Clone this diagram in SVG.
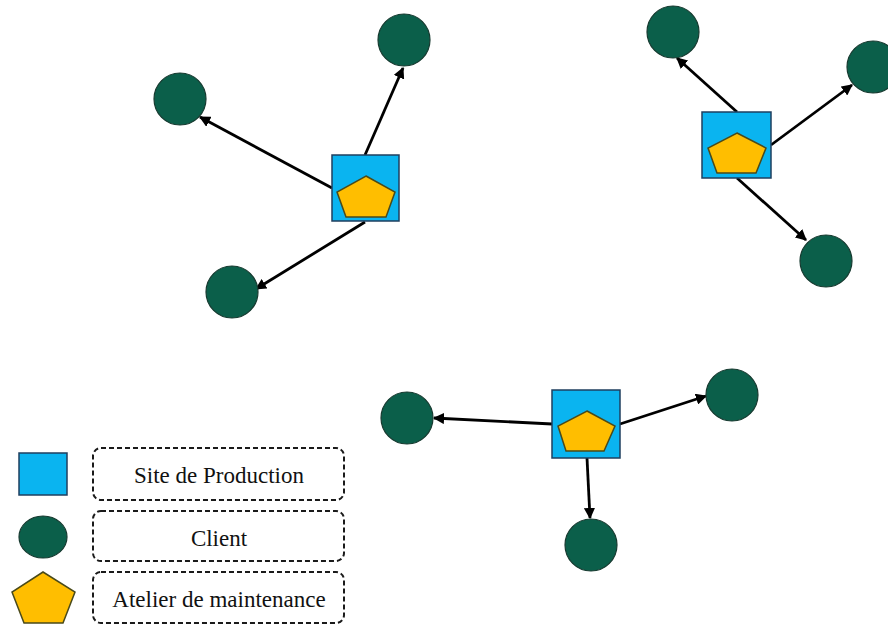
<svg xmlns="http://www.w3.org/2000/svg" width="888" height="625" viewBox="0 0 888 625">
<defs>
<style>
.site{fill:#0AB4F0;stroke:#1F3F5F;stroke-width:1.5}
.client{fill:#0B5F4A;stroke:#173A30;stroke-width:1.2}
.atelier{fill:#FFBE00;stroke:#4A4A1A;stroke-width:1.5}
.conn{stroke:#000;stroke-width:2.8;fill:none;marker-end:url(#arr)}
.leg{fill:none;stroke:#1a1a1a;stroke-width:2;stroke-dasharray:5,3}
.lbl{font-family:"Liberation Serif","Times New Roman",serif;font-size:23px;fill:#111;text-anchor:middle}
</style>
<marker id="arr" viewBox="0 0 10 10" refX="9" refY="5" markerWidth="4" markerHeight="4" orient="auto" markerUnits="strokeWidth">
<path d="M0,0 L10,5 L0,10 z" fill="#000"/>
</marker>
</defs>
<rect width="888" height="625" fill="#fff"/>
<g id="connectors">
<line class="conn" x1="365" y1="155" x2="403" y2="68"/>
<line class="conn" x1="332" y1="188" x2="200" y2="117"/>
<line class="conn" x1="365" y1="222" x2="256" y2="289"/>
<line class="conn" x1="737" y1="112" x2="677" y2="58"/>
<line class="conn" x1="771" y1="145" x2="852" y2="85"/>
<line class="conn" x1="737" y1="178" x2="806" y2="240"/>
<line class="conn" x1="552" y1="424" x2="434" y2="418"/>
<line class="conn" x1="620" y1="424" x2="706" y2="396"/>
<line class="conn" x1="587" y1="458" x2="590" y2="518"/>
</g>
<g id="site1">
<rect class="site" x="332" y="155" width="67" height="66"/>
<polygon class="atelier" points="366,176 395,192 386,217 346,217 337,192"/>
</g>
<g id="client1a"><circle class="client" cx="404" cy="40" r="26"/></g>
<g id="client1b"><circle class="client" cx="180" cy="99" r="26"/></g>
<g id="client1c"><circle class="client" cx="232" cy="292" r="26"/></g>
<g id="site2">
<rect class="site" x="702" y="112" width="69" height="66"/>
<polygon class="atelier" points="737,133 766,148 756,173 717,173 708,148"/>
</g>
<g id="client2a"><circle class="client" cx="673" cy="32" r="26"/></g>
<g id="client2b"><circle class="client" cx="873" cy="67" r="26"/></g>
<g id="client2c"><circle class="client" cx="826" cy="261" r="26"/></g>
<g id="site3">
<rect class="site" x="552" y="390" width="68" height="68"/>
<polygon class="atelier" points="587,411 615,426 604,451 566,451 558,426"/>
</g>
<g id="client3a"><circle class="client" cx="407" cy="418" r="26"/></g>
<g id="client3b"><circle class="client" cx="732" cy="395" r="26"/></g>
<g id="client3c"><circle class="client" cx="591" cy="545" r="26"/></g>
<g id="legend">
<rect class="site" x="19" y="453" width="48" height="42"/>
<ellipse class="client" cx="43" cy="537" rx="24" ry="21"/>
<polygon class="atelier" points="43,572 75,592 63,623 24,623 12,592"/>
<rect class="leg" x="93" y="448" width="251" height="52" rx="8"/>
<rect class="leg" x="93" y="511" width="251" height="50" rx="8"/>
<rect class="leg" x="93" y="572" width="251" height="51" rx="8"/>
<text class="lbl" x="219" y="483">Site de Production</text>
<text class="lbl" x="219" y="546">Client</text>
<text class="lbl" x="219" y="607">Atelier de maintenance</text>
</g>
</svg>
